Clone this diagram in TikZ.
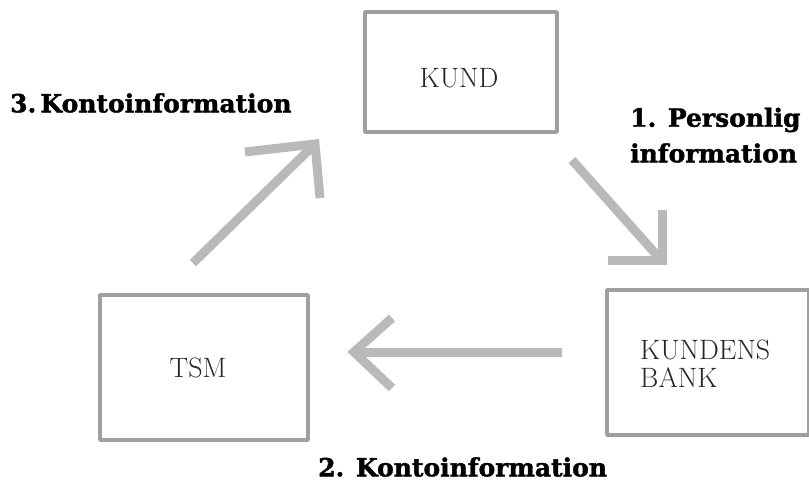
\documentclass[tikz,border=0pt]{standalone}
\usepackage{fontspec}
\newfontfamily\heavy[BoldFeatures={FakeBold=1.5}]{DejaVu Serif}
\begin{document}
\begin{tikzpicture}[x=1pt,y=-1pt,
  box/.style={draw=gray!75,line width=3.5pt,line join=round},
  flow/.style={draw=gray!55,line width=9pt,line join=miter},
  boxtext/.style={font=\fontsize{28}{32}\selectfont,text=black!85,align=left,inner sep=0pt},
  lbl/.style={font=\heavy\bfseries\fontsize{25}{30}\selectfont,align=left,inner sep=0pt,anchor=west}]
\useasboundingbox (0,0) rectangle (809,481);
% boxes
\draw[box] (365,12) rectangle (557,132);
\draw[box] (100,295) rectangle (308,440);
\draw[box] (607,290) rectangle (809,435);
\node[boxtext] (kund) at (459,78) {KUND};
\node[boxtext] (tsm) at (198,368) {TSM};
\node[boxtext,anchor=west] (bank) at (640,364) {KUNDENS\\[-4pt]BANK};
% arrows
\coordinate (a1s) at (572,160); \coordinate (a1t) at (662,261);
\coordinate (a2s) at (562,352); \coordinate (a2t) at (354,352);
\coordinate (a3s) at (193,263); \coordinate (a3t) at (315,144);
\draw[flow] (a1s) -- (a1t);
\draw[flow] (a1t) ++(0,-51) -- (a1t) -- ++(-54,0);
\draw[flow] (a2s) -- (a2t);
\draw[flow] (a2t) ++(38,-34) -- (a2t) -- ++(38,36);
\draw[flow] (a3s) -- (a3t);
\draw[flow] (a3t) ++(-70,8) -- (a3t) -- ++(5,54);
% labels
\node[lbl] (l3) at (10,103) {3.\,Kontoinformation};
\node[lbl] (l1) at (630,120) {1. Personlig};
\node[lbl] (l1b) at (630,153) {information};
\node[lbl] (l2) at (318,467) {2. Kontoinformation};
\end{tikzpicture}
\end{document}
